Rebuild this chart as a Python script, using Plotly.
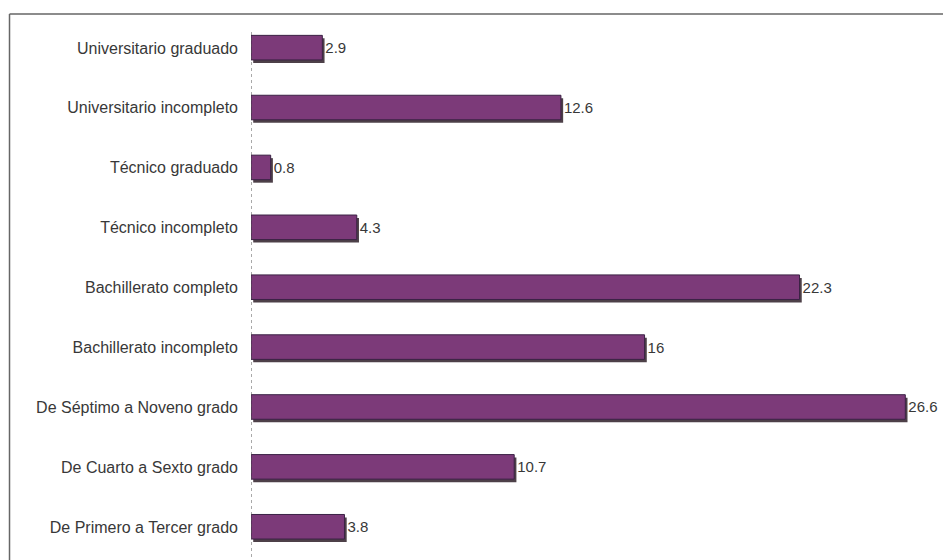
import plotly.graph_objects as go

# Nivel educativo (de arriba hacia abajo) y porcentajes
niveles = [
    "Universitario graduado",
    "Universitario incompleto",
    "Técnico graduado",
    "Técnico incompleto",
    "Bachillerato completo",
    "Bachillerato incompleto",
    "De Séptimo a Noveno grado",
    "De Cuarto a Sexto grado",
    "De Primero a Tercer grado",
]
porcentajes = [2.9, 12.6, 0.8, 4.3, 22.3, 16, 26.6, 10.7, 3.8]
etiquetas = ["2.9", "12.6", "0.8", "4.3", "22.3", "16", "26.6", "10.7", "3.8"]

MORADO = "#7c3a79"
BORDE = "#3b2245"
SOMBRA = "#4d4048"
TEXTO = "#383838"

fig = go.Figure()

# sombra desplazada abajo-derecha
fig.add_trace(go.Bar(
    y=niveles, x=porcentajes, base=0.09, orientation="h",
    width=0.41, offset=-0.16,
    marker=dict(color=SOMBRA, line=dict(width=0)),
    hoverinfo="skip", showlegend=False,
))

# barras principales
fig.add_trace(go.Bar(
    y=niveles, x=porcentajes, orientation="h",
    width=0.41, offset=-0.21,
    marker=dict(color=MORADO, line=dict(color=BORDE, width=1)),
    text=etiquetas, textposition="outside", cliponaxis=False,
    textfont=dict(family="Liberation Sans, Arial", size=15, color=TEXTO),
    showlegend=False,
))

# eje vertical punteado
fig.add_shape(type="line", x0=0, x1=0, xref="x", y0=0.0, y1=0.975, yref="paper",
              line=dict(color="#555555", width=1, dash="dot"))

# marco del recuadro (superior e izquierdo)
fig.add_shape(type="line", xref="paper", yref="paper", x0=-0.351, x1=1.05, y0=1.0074, y1=1.0074,
              line=dict(color="#666666", width=1.5))
fig.add_shape(type="line", xref="paper", yref="paper", x0=-0.351, x1=-0.351, y0=1.0074, y1=-0.05,
              line=dict(color="#666666", width=1.5))

fig.update_layout(
    width=951, height=560,
    margin=dict(l=243, r=20, t=10, b=11),
    paper_bgcolor="white", plot_bgcolor="white",
    barmode="overlay",
    font=dict(family="Liberation Sans, Arial", size=15, color=TEXTO),
)
fig.update_xaxes(range=[0, 27.97], visible=False, showgrid=False, zeroline=False)
fig.update_yaxes(autorange="reversed", showgrid=False, showline=False, ticks="",
                 ticklabelstandoff=12, tickfont=dict(size=16, color=TEXTO))

fig.write_html("out.html")
